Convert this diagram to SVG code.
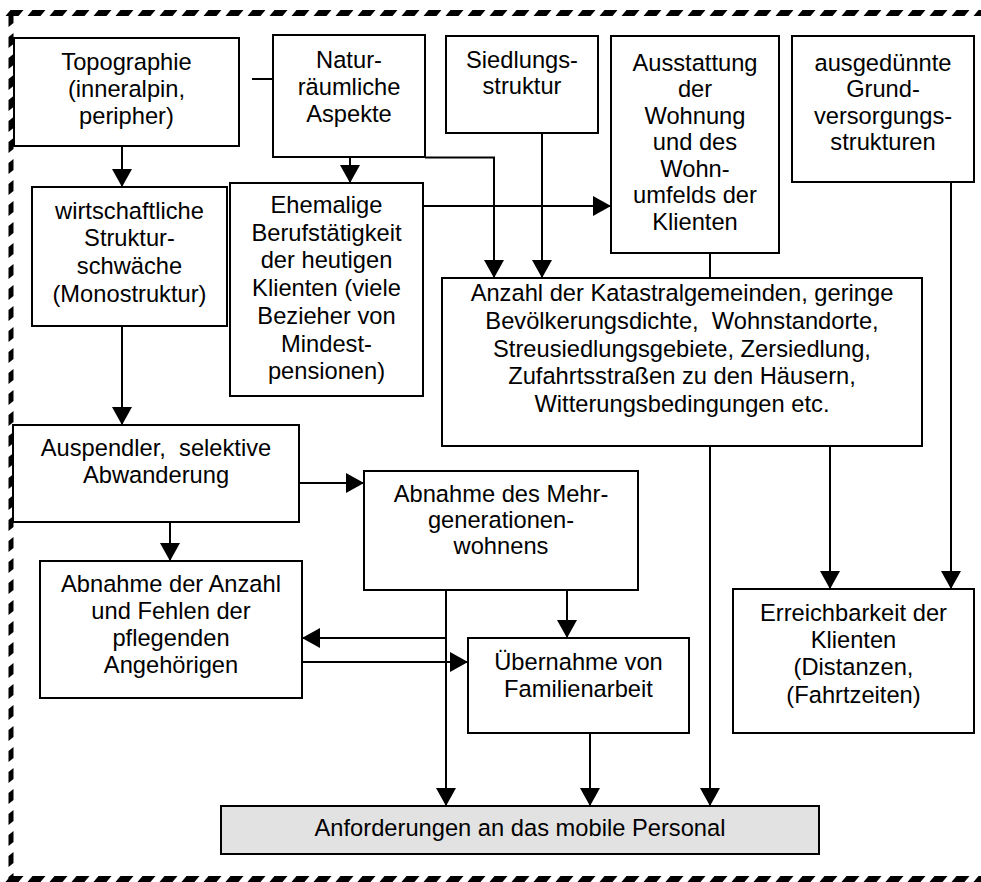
<svg xmlns="http://www.w3.org/2000/svg" width="981" height="882" viewBox="0 0 981 882">
  <style>
    .box { fill: #ffffff; stroke: #000000; stroke-width: 2; }
    .grey { fill: #e2e2e2; }
    .lbl { font-family: "Liberation Sans", Arial, sans-serif; font-size: 23.7px; fill: #000000; text-anchor: middle; }
    .con { fill: none; stroke: #000000; stroke-width: 2; }
    .arr { marker-end: url(#head); }
    .frame { fill: none; stroke: #000000; stroke-width: 6; stroke-dasharray: 13 9; }
  </style>
  <defs>
    <marker id="head" markerUnits="userSpaceOnUse" markerWidth="20" markerHeight="20" refX="18" refY="10" orient="auto" viewBox="0 0 20 20">
      <path d="M0,0 L18,10 L0,20 z" fill="#000000"/>
    </marker>
  </defs>

  <rect width="981" height="882" fill="#ffffff"/>

  <!-- dashed frame with slanted dashes -->
  <g id="frame">
    <line class="frame" x1="8" y1="0" x2="990" y2="0" transform="translate(0,13) skewX(-40)"/>
    <line class="frame" x1="8" y1="0" x2="990" y2="0" transform="translate(0,879) skewX(-40)"/>
    <line class="frame" x1="0" y1="14" x2="0" y2="890" style="stroke-width:5; stroke-dasharray:11 10" transform="translate(11,0) skewY(-40)"/>
  </g>

  <!-- connectors -->
  <g id="connectors">
    <path class="con arr" d="M122,146 V187"/>
    <path class="con" d="M252,79 H273"/>
    <path class="con arr" d="M350,157 V183"/>
    <path class="con arr" d="M425,157.5 H494 V278"/>
    <path class="con arr" d="M542,133 V278"/>
    <path class="con arr" d="M423,206 H611"/>
    <path class="con" d="M710,253 V278"/>
    <path class="con arr" d="M951,182 V589"/>
    <path class="con arr" d="M830,446 V589"/>
    <path class="con arr" d="M710,446 V806"/>
    <path class="con arr" d="M122,326 V425"/>
    <path class="con arr" d="M170,522 V561"/>
    <path class="con arr" d="M299,483 H364"/>
    <path class="con arr" d="M567,590 V638"/>
    <path class="con arr" d="M446,590 V806"/>
    <path class="con arr" d="M446,638 H302"/>
    <path class="con arr" d="M302,662 H468"/>
    <path class="con arr" d="M590,733 V806"/>
  </g>

  <g id="topographie">
    <rect class="box" x="14" y="38" width="225" height="108"/>
    <text class="lbl"><tspan x="126.5" y="70">Topographie</tspan><tspan x="126.5" y="97">(inneralpin,</tspan><tspan x="126.5" y="124">peripher)</tspan></text>
  </g>

  <g id="naturraum">
    <rect class="box" x="273" y="35" width="152" height="122"/>
    <text class="lbl"><tspan x="349" y="68">Natur-</tspan><tspan x="349" y="95">räumliche</tspan><tspan x="349" y="122">Aspekte</tspan></text>
  </g>

  <g id="siedlung">
    <rect class="box" x="446" y="36" width="152" height="97"/>
    <text class="lbl"><tspan x="522" y="68">Siedlungs-</tspan><tspan x="522" y="94">struktur</tspan></text>
  </g>

  <g id="ausstattung">
    <rect class="box" x="611" y="36" width="168" height="217"/>
    <text class="lbl"><tspan x="695" y="70.5">Ausstattung</tspan><tspan x="695" y="97">der</tspan><tspan x="695" y="123.5">Wohnung</tspan><tspan x="695" y="150">und des</tspan><tspan x="695" y="176.5">Wohn-</tspan><tspan x="695" y="203">umfelds der</tspan><tspan x="695" y="229.5">Klienten</tspan></text>
  </g>

  <g id="grundversorgung">
    <rect class="box" x="792" y="36" width="182" height="146"/>
    <text class="lbl"><tspan x="883" y="70.5">ausgedünnte</tspan><tspan x="883" y="97">Grund-</tspan><tspan x="883" y="123.5">versorgungs-</tspan><tspan x="883" y="150">strukturen</tspan></text>
  </g>

  <g id="strukturschwaeche">
    <rect class="box" x="32" y="187" width="195" height="139"/>
    <text class="lbl"><tspan x="129.5" y="218.5">wirtschaftliche</tspan><tspan x="129.5" y="246.3">Struktur-</tspan><tspan x="129.5" y="274">schwäche</tspan><tspan x="129.5" y="301.7">(Monostruktur)</tspan></text>
  </g>

  <g id="berufstaetigkeit">
    <rect class="box" x="230" y="183" width="193" height="213"/>
    <text class="lbl"><tspan x="326.5" y="212.7">Ehemalige</tspan><tspan x="326.5" y="240.5">Berufstätigkeit</tspan><tspan x="326.5" y="268.3">der heutigen</tspan><tspan x="326.5" y="296">Klienten (viele</tspan><tspan x="326.5" y="323.8">Bezieher von</tspan><tspan x="326.5" y="351.5">Mindest-</tspan><tspan x="326.5" y="379.3">pensionen)</tspan></text>
  </g>

  <g id="katastralgemeinden">
    <rect class="box" x="442" y="278" width="480" height="168"/>
    <text class="lbl" xml:space="preserve"><tspan x="682" y="301">Anzahl der Katastralgemeinden, geringe</tspan><tspan x="682" y="328.8">Bevölkerungsdichte,  Wohnstandorte,</tspan><tspan x="682" y="356.6">Streusiedlungsgebiete, Zersiedlung,</tspan><tspan x="682" y="384.4">Zufahrtsstraßen zu den Häusern,</tspan><tspan x="682" y="412.2">Witterungsbedingungen etc.</tspan></text>
  </g>

  <g id="auspendler">
    <rect class="box" x="13" y="425" width="286" height="97"/>
    <text class="lbl" xml:space="preserve"><tspan x="156" y="455.7">Auspendler,  selektive</tspan><tspan x="156" y="482.5">Abwanderung</tspan></text>
  </g>

  <g id="mehrgenerationen">
    <rect class="box" x="364" y="471" width="274" height="119"/>
    <text class="lbl"><tspan x="501" y="501.7">Abnahme des Mehr-</tspan><tspan x="501" y="528">generationen-</tspan><tspan x="501" y="554.3">wohnens</tspan></text>
  </g>

  <g id="angehoerige">
    <rect class="box" x="40" y="561" width="262" height="137"/>
    <text class="lbl"><tspan x="171" y="591.7">Abnahme der Anzahl</tspan><tspan x="171" y="619">und Fehlen der</tspan><tspan x="171" y="646.2">pflegenden</tspan><tspan x="171" y="673.4">Angehörigen</tspan></text>
  </g>

  <g id="familienarbeit">
    <rect class="box" x="468" y="638" width="221" height="95"/>
    <text class="lbl"><tspan x="578.5" y="670">Übernahme von</tspan><tspan x="578.5" y="696.5">Familienarbeit</tspan></text>
  </g>

  <g id="erreichbarkeit">
    <rect class="box" x="733" y="589" width="241" height="144"/>
    <text class="lbl"><tspan x="853.5" y="621">Erreichbarkeit der</tspan><tspan x="853.5" y="648.2">Klienten</tspan><tspan x="853.5" y="675.4">(Distanzen,</tspan><tspan x="853.5" y="702.6">(Fahrtzeiten)</tspan></text>
  </g>

  <g id="anforderungen">
    <rect class="box grey" x="221" y="806" width="598" height="48"/>
    <text class="lbl" x="520" y="836">Anforderungen an das mobile Personal</text>
  </g>
</svg>
